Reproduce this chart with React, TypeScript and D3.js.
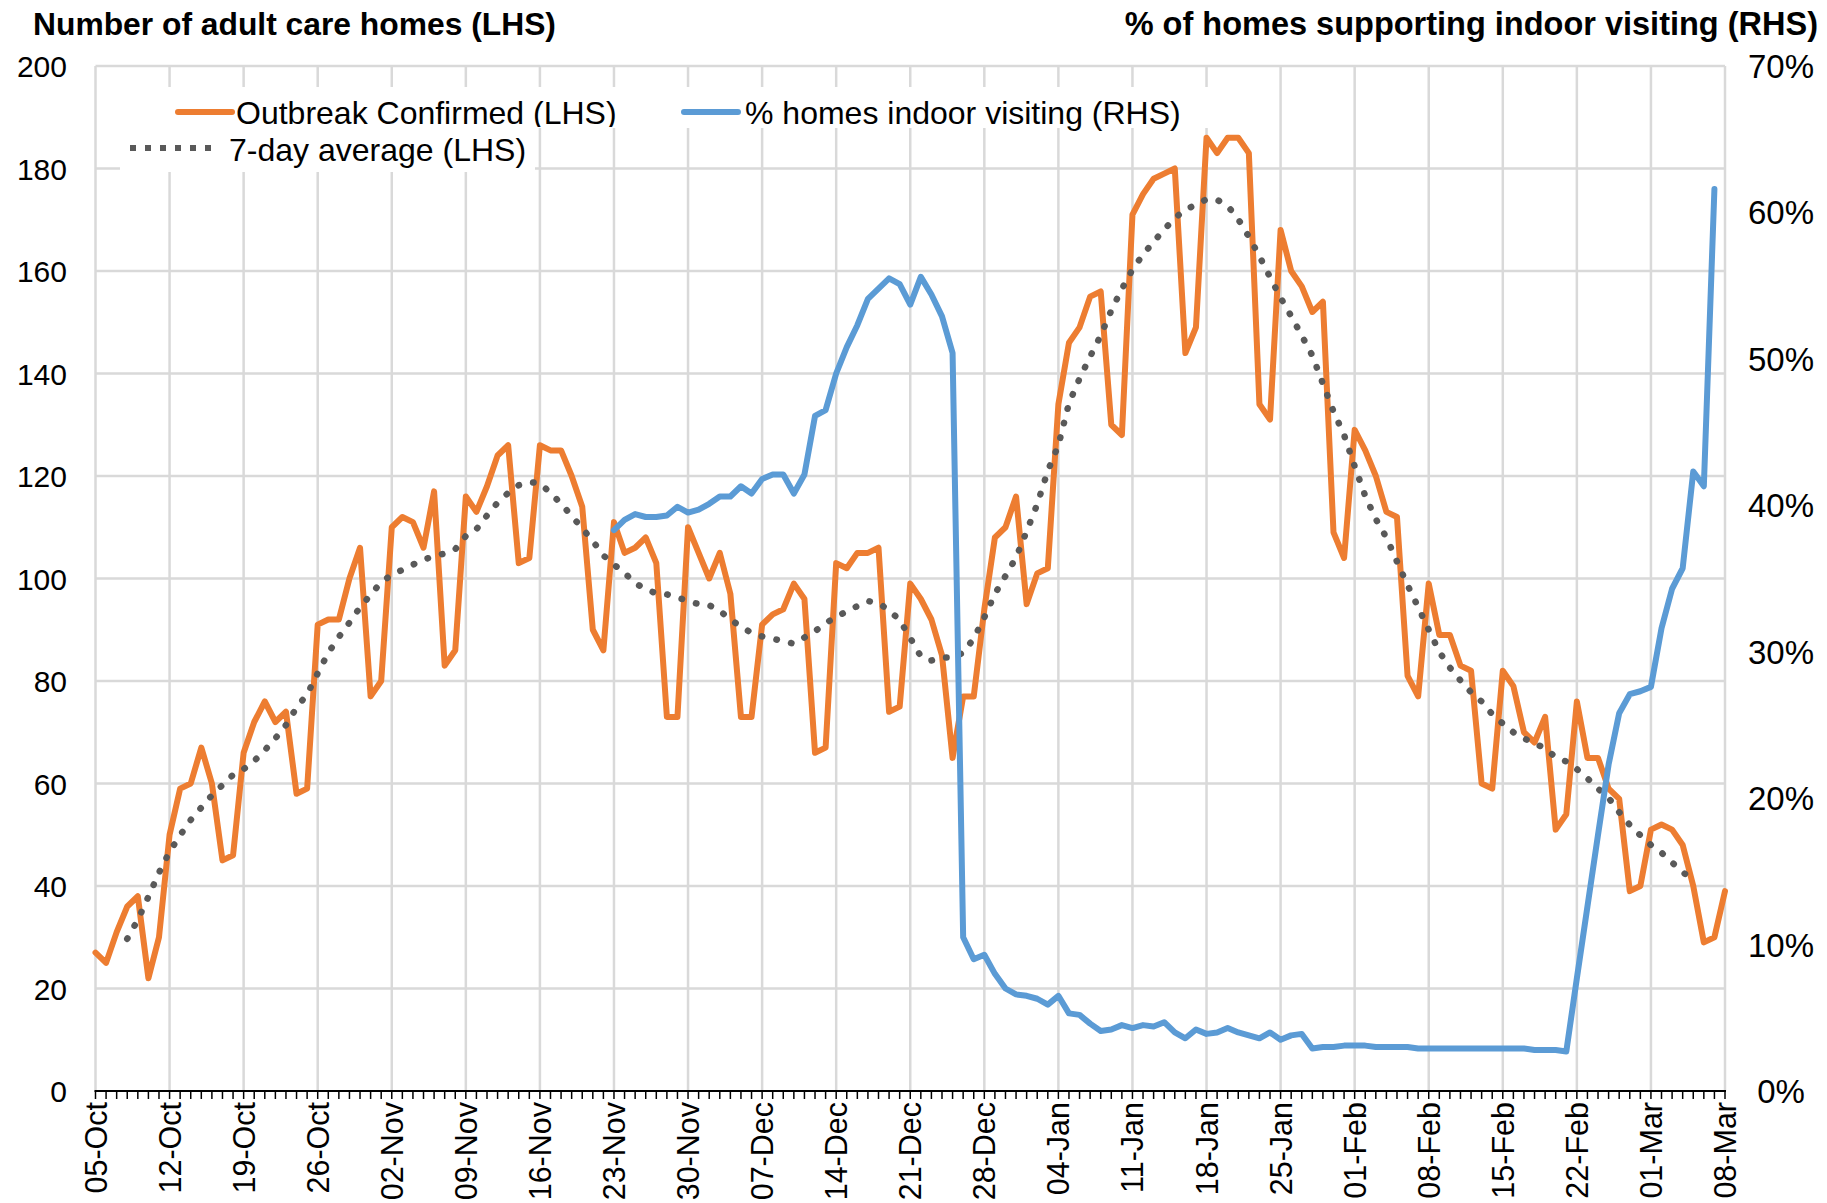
import { useRef, useEffect } from 'react';
import * as d3 from 'd3';

// x axis: one point per day, 05-Oct to 08-Mar, labelled weekly
const tickLabels = [
  '05-Oct', '12-Oct', '19-Oct', '26-Oct', '02-Nov', '09-Nov', '16-Nov', '23-Nov',
  '30-Nov', '07-Dec', '14-Dec', '21-Dec', '28-Dec', '04-Jan', '11-Jan', '18-Jan',
  '25-Jan', '01-Feb', '08-Feb', '15-Feb', '22-Feb', '01-Mar', '08-Mar',
];

// Outbreak Confirmed (LHS), daily from 05-Oct
const outbreaks = [
  27, 25, 31, 36, 38, 22, 30, 50, 59, 60, 67, 60, 45, 46,
  66, 72, 76, 72, 74, 58, 59, 91, 92, 92, 100, 106, 77, 80,
  110, 112, 111, 106, 117, 83, 86, 116, 113, 118, 124, 126, 103, 104,
  126, 125, 125, 120, 114, 90, 86, 111, 105, 106, 108, 103, 73, 73,
  110, 105, 100, 105, 97, 73, 73, 91, 93, 94, 99, 96, 66, 67,
  103, 102, 105, 105, 106, 74, 75, 99, 96, 92, 85, 65, 77, 77,
  94, 108, 110, 116, 95, 101, 102, 134, 146, 149, 155, 156, 130, 128,
  171, 175, 178, 179, 180, 144, 149, 186, 183, 186, 186, 183, 134, 131,
  168, 160, 157, 152, 154, 109, 104, 129, 125, 120, 113, 112, 81, 77,
  99, 89, 89, 83, 82, 60, 59, 82, 79, 70, 68, 73, 51, 54,
  76, 65, 65, 59, 57, 39, 40, 51, 52, 51, 48, 40, 29, 30,
  39,
];

// 7-day average (LHS), first value sits on day 3 (08-Oct)
const avgStart = 3;
const sevenDayAvg = [
  29.7, 33.4, 37.9, 42.6, 46.7, 49.9, 52.9, 55.3, 57.7, 59.7, 61.7,
  62.8, 64.4, 66.5, 68.8, 71.4, 74.8, 77.4, 81.5, 85.5, 88.6, 91.4, 94.4, 96.8, 99.3,
  100.7, 101.7, 102.7, 103.7, 104.3, 104.9, 105.7, 108.3, 109.6, 112.3, 114.8, 116.7, 118.2, 118.8,
  118.6, 116.7, 114.6, 112.2, 109.8, 107.3, 104.5, 102.7, 101.1, 99.1, 97.9, 97.1, 96.9, 96.3,
  95.6, 95.0, 94.8, 93.7, 92.0, 90.6, 89.4, 88.7, 88.3, 87.7, 87.3, 88.5, 89.7, 91.3,
  92.5, 93.6, 94.6, 95.6, 95.2, 93.8, 91.9, 88.4, 84.8, 84.0, 84.6, 84.6, 85.5, 88.3,
  92.4, 97.0, 100.5, 104.1, 109.2, 114.5, 121.0, 126.0, 134.2, 139.0, 143.3, 147.4, 152.3, 156.5,
  160.3, 163.2, 165.7, 168.1, 170.3, 172.0, 172.9, 174.0, 173.9, 172.7, 170.1, 166.7, 162.9, 158.8,
  154.8, 151.2, 147.4, 143.5, 138.0, 132.6, 128.0, 121.9, 116.1, 111.6, 108.0, 103.3, 98.7, 94.4,
  90.0, 85.7, 82.6, 80.1, 77.8, 76.0, 73.5, 71.7, 70.0, 68.8, 67.8, 66.9, 65.1, 64.3,
  62.8, 61.0, 59.0, 57.2, 54.4, 51.9, 49.9, 48.0, 46.5, 44.6, 42.7, 41.2,
];

// % homes indoor visiting (RHS), first value sits on day 49 (23-Nov)
const visitStart = 49;
const indoorVisiting = [
  38.3, 39.0, 39.4, 39.2, 39.2, 39.3, 39.9,
  39.5, 39.7, 40.1, 40.6, 40.6, 41.3, 40.8,
  41.8, 42.1, 42.1, 40.8, 42.1, 46.1, 46.5,
  49.0, 50.8, 52.3, 54.1, 54.8, 55.5, 55.1,
  53.7, 55.6, 54.4, 52.9, 50.4, 10.5, 9.0,
  9.3, 8.0, 7.0, 6.6, 6.5, 6.3, 5.9,
  6.5, 5.3, 5.2, 4.6, 4.1, 4.2, 4.5,
  4.3, 4.5, 4.4, 4.7, 4.0, 3.6, 4.2,
  3.9, 4.0, 4.3, 4.0, 3.8, 3.6, 4.0,
  3.5, 3.8, 3.9, 2.9, 3.0, 3.0, 3.1,
  3.1, 3.1, 3.0, 3.0, 3.0, 3.0, 2.9,
  2.9, 2.9, 2.9, 2.9, 2.9, 2.9, 2.9,
  2.9, 2.9, 2.9, 2.8, 2.8, 2.8, 2.7,
  7.7, 12.6, 17.5, 22.3, 25.8, 27.1, 27.3,
  27.6, 31.6, 34.3, 35.7, 42.3, 41.3, 61.6,
];

const FONT = '"Liberation Sans", Arial, Helvetica, sans-serif';
const ORANGE = '#ED7D31';
const BLUE = '#5B9BD5';
const GREY = '#595959';
const GRID = '#D9D9D9';

const App = () => {
  const svgRef = useRef(null);

  useEffect(() => {
    const svg = d3.select(svgRef.current);
    svg.selectAll('*').remove();

    const left = 95.5, right = 1725, top = 66, bottom = 1091;

    const x = d3.scaleLinear().domain([0, outbreaks.length - 1]).range([left, right]);
    const yL = d3.scaleLinear().domain([0, 200]).range([bottom, top]);
    const yR = d3.scaleLinear().domain([0, 70]).range([bottom, top]);

    const g = svg.append('g').attr('font-family', FONT);

    // gridlines
    g.append('g')
      .selectAll('line')
      .data(yL.ticks(10).filter(d => d > 0))
      .enter().append('line')
      .attr('x1', left).attr('x2', right)
      .attr('y1', d => yL(d)).attr('y2', d => yL(d))
      .attr('stroke', GRID).attr('stroke-width', 2.5);

    g.append('g')
      .selectAll('line')
      .data(tickLabels.map((_, i) => i * 7))
      .enter().append('line')
      .attr('x1', d => x(d)).attr('x2', d => x(d))
      .attr('y1', top).attr('y2', bottom)
      .attr('stroke', GRID).attr('stroke-width', 2.5);

    // bottom axis with a tick for every day
    g.append('line')
      .attr('x1', left - 1).attr('x2', right + 1)
      .attr('y1', bottom).attr('y2', bottom)
      .attr('stroke', '#000').attr('stroke-width', 2);
    g.append('g')
      .selectAll('line')
      .data(d3.range(outbreaks.length))
      .enter().append('line')
      .attr('x1', d => x(d)).attr('x2', d => x(d))
      .attr('y1', bottom).attr('y2', bottom + 8)
      .attr('stroke', '#000').attr('stroke-width', 1.5);

    g.append('g')
      .selectAll('text')
      .data(tickLabels)
      .enter().append('text')
      .attr('transform', (_, i) => `translate(${x(i * 7) + 11},1102) rotate(-90)`)
      .attr('text-anchor', 'end')
      .attr('font-size', 30.5)
      .attr('fill', '#000')
      .text(d => d);

    // left and right value labels
    g.append('g')
      .selectAll('text')
      .data(yL.ticks(10))
      .enter().append('text')
      .attr('x', 67).attr('y', d => yL(d) + 11)
      .attr('text-anchor', 'end')
      .attr('font-size', 30)
      .text(d => d);

    g.append('g')
      .selectAll('text')
      .data(d3.range(0, 71, 10))
      .enter().append('text')
      .attr('x', 1781).attr('y', d => yR(d) + 12)
      .attr('text-anchor', 'middle')
      .attr('font-size', 33)
      .text(d => `${d}%`);

    // axis titles
    g.append('text')
      .attr('x', 33).attr('y', 35)
      .attr('font-size', 31.8).attr('font-weight', 'bold')
      .text('Number of adult care homes (LHS)');
    g.append('text')
      .attr('x', 1818).attr('y', 35)
      .attr('text-anchor', 'end')
      .attr('font-size', 32.5).attr('font-weight', 'bold')
      .text('% of homes supporting indoor visiting (RHS)');

    // legend
    const leg = g.append('g');
    leg.append('rect').attr('x', 120).attr('y', 87).attr('width', 1095).attr('height', 41).attr('fill', '#fff');
    leg.append('rect').attr('x', 120).attr('y', 128).attr('width', 415).attr('height', 44).attr('fill', '#fff');

    svg.append('defs').append('clipPath').attr('id', 'row1clip')
      .append('rect').attr('x', 0).attr('y', 80).attr('width', 1827).attr('height', 47);

    leg.append('line')
      .attr('x1', 178).attr('x2', 232).attr('y1', 112).attr('y2', 112)
      .attr('stroke', ORANGE).attr('stroke-width', 6).attr('stroke-linecap', 'round');
    leg.append('text')
      .attr('x', 236).attr('y', 124).attr('font-size', 32)
      .attr('clip-path', 'url(#row1clip)')
      .text('Outbreak Confirmed (LHS)');

    leg.append('line')
      .attr('x1', 684).attr('x2', 738).attr('y1', 112).attr('y2', 112)
      .attr('stroke', BLUE).attr('stroke-width', 6).attr('stroke-linecap', 'round');
    leg.append('text')
      .attr('x', 745).attr('y', 124).attr('font-size', 32)
      .text('% homes indoor visiting (RHS)');

    leg.append('line')
      .attr('x1', 130).attr('x2', 220).attr('y1', 148).attr('y2', 148)
      .attr('stroke', GREY).attr('stroke-width', 6).attr('stroke-dasharray', '6 9');
    leg.append('text')
      .attr('x', 229).attr('y', 161).attr('font-size', 32)
      .text('7-day average (LHS)');

    // series
    const lineL = d3.line().x(d => x(d[0])).y(d => yL(d[1]));
    const lineR = d3.line().x(d => x(d[0])).y(d => yR(d[1]));

    g.append('path')
      .datum(outbreaks.map((v, i) => [i, v]))
      .attr('d', lineL)
      .attr('fill', 'none').attr('stroke', ORANGE)
      .attr('stroke-width', 6).attr('stroke-linejoin', 'round').attr('stroke-linecap', 'round');

    g.append('path')
      .datum(sevenDayAvg.map((v, i) => [i + avgStart, v]))
      .attr('d', lineL)
      .attr('fill', 'none').attr('stroke', GREY)
      .attr('stroke-width', 6.5).attr('stroke-linecap', 'round')
      .attr('stroke-dasharray', '0.5 14.5');

    g.append('path')
      .datum(indoorVisiting.map((v, i) => [i + visitStart, v]))
      .attr('d', lineR)
      .attr('fill', 'none').attr('stroke', BLUE)
      .attr('stroke-width', 6).attr('stroke-linejoin', 'round').attr('stroke-linecap', 'round');
  }, []);

  return (
    <svg
      ref={svgRef}
      width={1827}
      height={1203}
      style={{ position: 'absolute', left: 0, top: 0, display: 'block', background: '#fff' }}
    />
  );
};

export default App;
